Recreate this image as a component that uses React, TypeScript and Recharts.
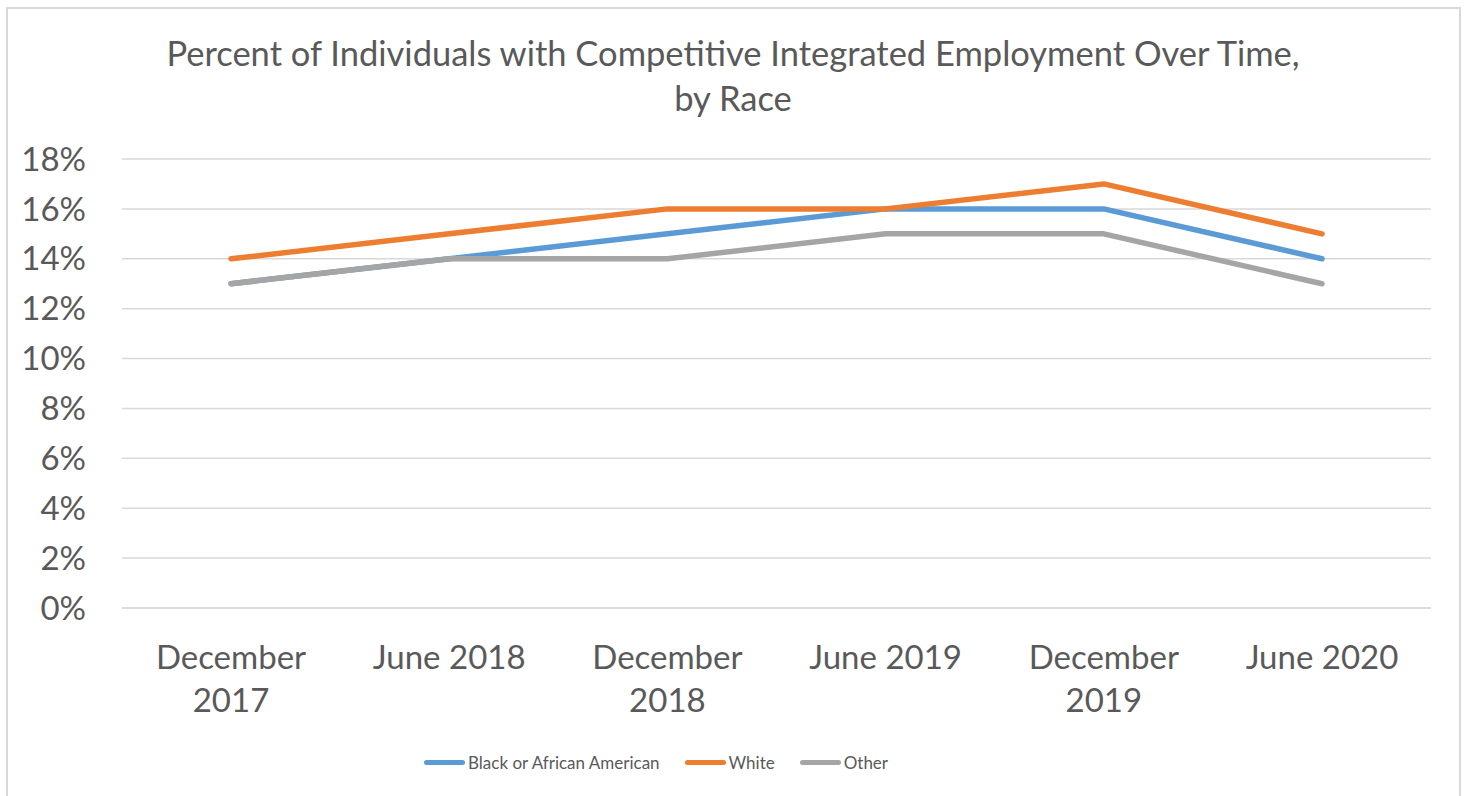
import React from "react";
import { LineChart, Line, XAxis, YAxis, CartesianGrid, Legend } from "recharts";

const categories = ["December 2017", "June 2018", "December 2018", "June 2019", "December 2019", "June 2020"];
const blackValues = [13, 14, 15, 16, 16, 14];
const whiteValues = [14, 15, 16, 16, 17, 15];
const otherValues = [13, 14, 14, 15, 15, 13];
const yTicks = [0, 2, 4, 6, 8, 10, 12, 14, 16, 18];

const seriesInfo = [
  { key: "black", name: "Black or African American", color: "#5B9BD5" },
  { key: "white", name: "White", color: "#ED7D31" },
  { key: "other", name: "Other", color: "#A5A5A5" },
];

const data = categories.map((c, i) => ({
  category: c,
  black: blackValues[i],
  white: whiteValues[i],
  other: otherValues[i],
}));

const FONT = "Lato, 'Open Sans', sans-serif";
const TEXT = "#595959";

const XTick = (props: any) => {
  const { x, y, payload } = props;
  const v: string = payload.value;
  const parts = v.startsWith("December") ? ["December", v.split(" ")[1]] : [v];
  return (
    <text x={x} y={y} textAnchor="middle" fill={TEXT} fontSize={33} fontFamily={FONT}>
      {parts.map((p, i) => (
        <tspan key={i} x={x} dy={i === 0 ? 53 : 43}>
          {p}
        </tspan>
      ))}
    </text>
  );
};

const LegendContent = () => (
  <div
    style={{
      display: "flex",
      justifyContent: "flex-start",
      alignItems: "center",
      fontFamily: FONT,
      fontSize: 17,
      color: TEXT,
      height: 68,
      paddingLeft: 424,
      boxSizing: "border-box",
    }}
  >
    {seriesInfo.map((s, i) => (
      <div key={s.key} style={{ display: "flex", alignItems: "center", marginLeft: i === 0 ? 0 : 25 }}>
        <div style={{ width: 41, height: 5, borderRadius: 3, background: s.color, marginRight: 3 }} />
        <span>{s.name}</span>
      </div>
    ))}
  </div>
);

export default function App() {
  return (
    <div style={{ position: "absolute", left: 0, top: 0, width: 1468, height: 796, background: "#fff", overflow: "hidden" }}>
      <div
        style={{
          position: "absolute",
          left: 6,
          top: 7,
          width: 1451,
          height: 820,
          border: "2px solid #D9D9D9",
        }}
      />
      <div
        style={{
          position: "absolute",
          left: 0,
          top: 30,
          width: 1466,
          textAlign: "center",
          fontFamily: FONT,
          fontSize: 34.5,
          lineHeight: "45px",
          color: TEXT,
        }}
      >
        Percent of Individuals with Competitive Integrated Employment Over Time,
        <br />
        by Race
      </div>
      <div style={{ position: "absolute", left: 0, top: 0 }}>
        <LineChart width={1468} height={796} data={data} margin={{ top: 159, right: 37, bottom: 0, left: 0 }}>
          <CartesianGrid vertical={false} stroke="#D9D9D9" strokeWidth={1.5} />
          <XAxis
            dataKey="category"
            interval={0}
            height={120}
            padding={{ left: 109, right: 109 }}
            tickLine={false}
            axisLine={{ stroke: "#D9D9D9", strokeWidth: 1.5 }}
            tick={<XTick />}
          />
          <YAxis
            width={122}
            domain={[0, 18]}
            ticks={yTicks}
            tickFormatter={(v: number) => `${v}%`}
            axisLine={false}
            tickLine={false}
            tickSize={0}
            tickMargin={36}
            tick={{ fill: TEXT, fontSize: 33, fontFamily: FONT }}
          />
          <Legend verticalAlign="bottom" height={68} content={<LegendContent />} />
          {seriesInfo.map((s) => (
            <Line
              key={s.key}
              type="linear"
              dataKey={s.key}
              name={s.name}
              stroke={s.color}
              strokeWidth={5.5}
              strokeLinecap="round"
              strokeLinejoin="round"
              dot={false}
              activeDot={false}
              isAnimationActive={false}
            />
          ))}
        </LineChart>
      </div>
    </div>
  );
}
